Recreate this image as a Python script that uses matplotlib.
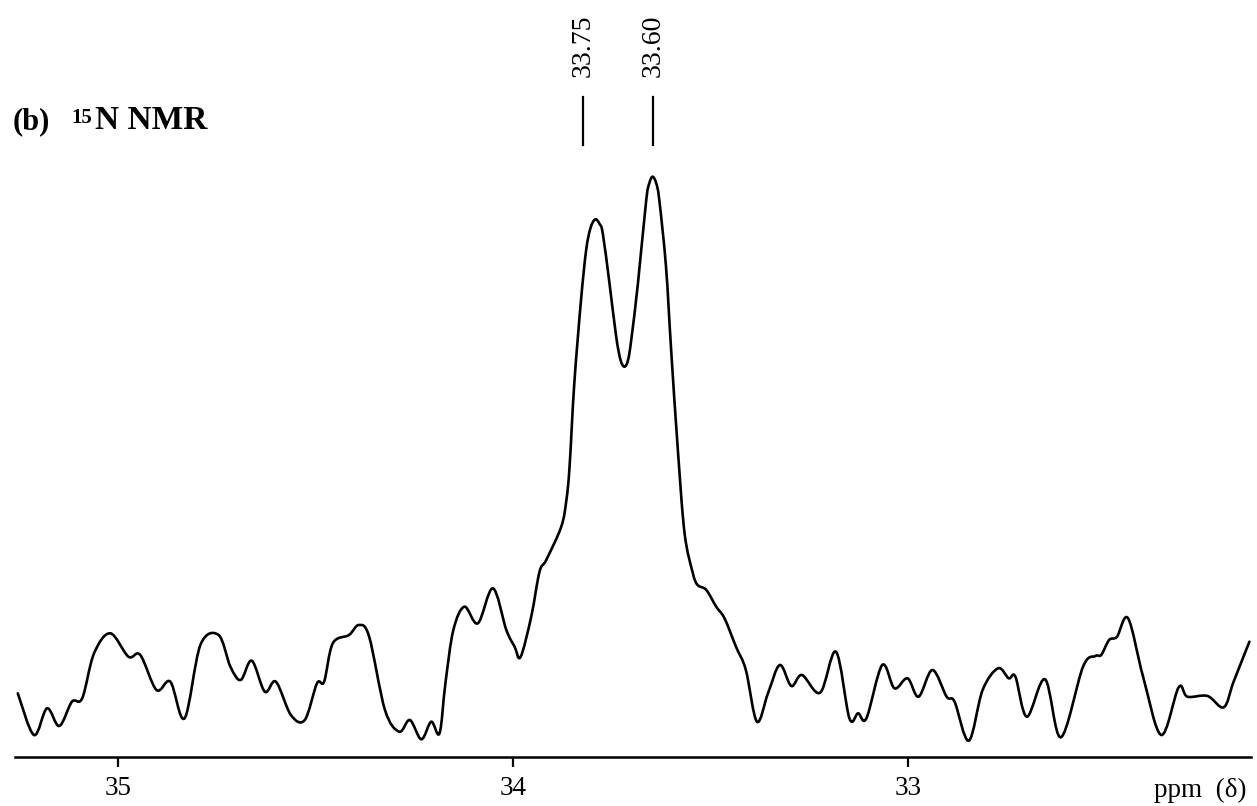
import matplotlib
matplotlib.use("Agg")
import matplotlib.pyplot as plt
from matplotlib.path import Path
from matplotlib.patches import PathPatch

# ---- data (chemical shift in ppm, intensity in arbitrary units) ----
ppm = [35.253, 35.212, 35.179, 35.148, 35.116, 35.090, 35.060, 35.019, 34.973, 34.943,
       34.902, 34.867, 34.831, 34.791, 34.745, 34.715, 34.689, 34.661, 34.628, 34.600,
       34.562, 34.527, 34.496, 34.478, 34.456, 34.415, 34.390, 34.364, 34.324, 34.288,
       34.261, 34.232, 34.207, 34.186, 34.171, 34.151, 34.123, 34.089, 34.051, 34.017,
       33.996, 33.981, 33.954, 33.933, 33.916, 33.878, 33.865, 33.857, 33.845, 33.828,
       33.815, 33.804, 33.792, 33.781, 33.773, 33.756, 33.739, 33.728, 33.718, 33.709,
       33.701, 33.684, 33.663, 33.655, 33.647, 33.638, 33.630, 33.613, 33.600, 33.583,
       33.566, 33.545, 33.533, 33.511, 33.486, 33.465, 33.436, 33.411, 33.383, 33.355,
       33.325, 33.296, 33.269, 33.223, 33.183, 33.149, 33.127, 33.106, 33.066, 33.035,
       33.002, 32.974, 32.939, 32.903, 32.883, 32.847, 32.812, 32.773, 32.746, 32.729,
       32.700, 32.654, 32.614, 32.558, 32.527, 32.512, 32.492, 32.472, 32.444, 32.406,
       32.360, 32.316, 32.294, 32.243, 32.202, 32.177, 32.137]
intensity = [63.7, 22.0, 48.7, 31.0, 55.3, 58.7, 103.7, 123.7, 100.3, 102.0,
             67.0, 75.3, 38.7, 112.0, 122.0, 90.3, 77.0, 96.3, 65.3, 75.3,
             42.0, 37.0, 73.7, 75.3, 113.7, 122.0, 132.0, 120.3, 47.0, 25.3,
             37.0, 17.7, 35.3, 23.7, 74.0, 127.0, 150.3, 133.7, 168.7, 127.0,
             110.3, 100.0, 140.3, 185.3, 197.0, 230.3, 257.0, 290.3, 373.7, 457.0,
             507.0, 529.0, 537.7, 533.0, 523.7, 473.7, 420.3, 397.0, 390.3, 397.0,
             417.0, 473.7, 557.0, 574.0, 580.3, 574.0, 557.0, 490.3, 407.0, 307.0,
             223.7, 183.7, 172.0, 167.0, 150.3, 138.7, 110.3, 87.0, 35.3, 63.7,
             92.0, 71.0, 82.0, 64.3, 105.3, 38.7, 43.7, 38.7, 92.0, 68.7,
             78.7, 60.3, 87.0, 60.3, 55.3, 16.3, 67.0, 88.7, 78.7, 80.3,
             40.3, 77.7, 19.7, 90.3, 101.0, 102.0, 117.0, 120.3, 138.7, 80.3,
             22.0, 69.7, 60.3, 61.0, 49.7, 75.3, 115.3]

tick_values = [35, 34, 33]
tick_labels = ["35", "34", "33"]

peak_labels = ["33.75", "33.60"]
peak_marks = [33.822, 33.645]      # where the label marks sit on the drawn axis

title_prefix = "(b)"
title_isotope = "15"
title_rest = "N NMR"
axis_label = "ppm  (\u03b4)"


def smooth_path(xs, ys):
    """Catmull-Rom curve through the read points, expressed as cubic Bezier segments."""
    verts = [(xs[0], ys[0])]
    codes = [Path.MOVETO]
    n = len(xs)
    for i in range(n - 1):
        x0, y0 = (xs[i - 1], ys[i - 1]) if i > 0 else (xs[i], ys[i])
        x1, y1 = xs[i], ys[i]
        x2, y2 = xs[i + 1], ys[i + 1]
        x3, y3 = (xs[i + 2], ys[i + 2]) if i + 2 < n else (xs[i + 1], ys[i + 1])
        c1 = (x1 + (x2 - x0) / 6.0, y1 + (y2 - y0) / 6.0)
        c2 = (x2 - (x3 - x1) / 6.0, y2 - (y3 - y1) / 6.0)
        verts += [c1, c2, (x2, y2)]
        codes += [Path.CURVE4, Path.CURVE4, Path.CURVE4]
    return Path(verts, codes)


# ---- figure ----
W, H = 1257, 806
fig = plt.figure(figsize=(W / 100, H / 100), dpi=100)
fig.patch.set_facecolor("white")

ax_left, ax_right = 15, 1251
ax_bottom_px = 757
ax = fig.add_axes([ax_left / W, 1 - ax_bottom_px / H, (ax_right - ax_left) / W, ax_bottom_px / H])
ax.set_facecolor("none")

ax.add_patch(PathPatch(smooth_path(ppm, intensity), facecolor="none", edgecolor="black",
                       lw=1.9, joinstyle="round", capstyle="round"))

ax.set_xlim(35.260, 32.133)
ax.set_ylim(0, 757)

for s in ["top", "left", "right"]:
    ax.spines[s].set_visible(False)
ax.spines["bottom"].set_linewidth(1.8)
ax.set_yticks([])
ax.set_xticks(tick_values)
ax.set_xticklabels(tick_labels)
serif = ["Liberation Serif", "DejaVu Serif"]
ax.tick_params(axis="x", direction="out", length=7, width=1.6, pad=7, labelsize=19.5)
for lab in ax.get_xticklabels():
    lab.set_fontfamily(serif)

# peak marks and labels
for lab, pos in zip(peak_labels, peak_marks):
    ax.plot([pos, pos], [612, 660], color="black", lw=1.6)
    ax.text(pos, 680, lab, rotation=90, ha="center", va="bottom",
            fontsize=20, family=serif)

# axis unit label
fig.text(1247 / W, 1 - 797 / H, axis_label, ha="right", va="baseline",
         fontsize=19.5, family=serif)

# title
fig.text(13 / W, 1 - 129 / H, title_prefix, ha="left", va="baseline",
         fontsize=22, fontweight="bold", family=serif)
fig.text(71 / W, 1 - 123 / H, title_isotope, ha="left", va="baseline",
         fontsize=15, fontweight="bold", family=serif)
fig.text(95 / W, 1 - 129 / H, title_rest, ha="left", va="baseline",
         fontsize=24, fontweight="bold", family=serif)

fig.savefig("out.png", dpi=100, facecolor="white")
